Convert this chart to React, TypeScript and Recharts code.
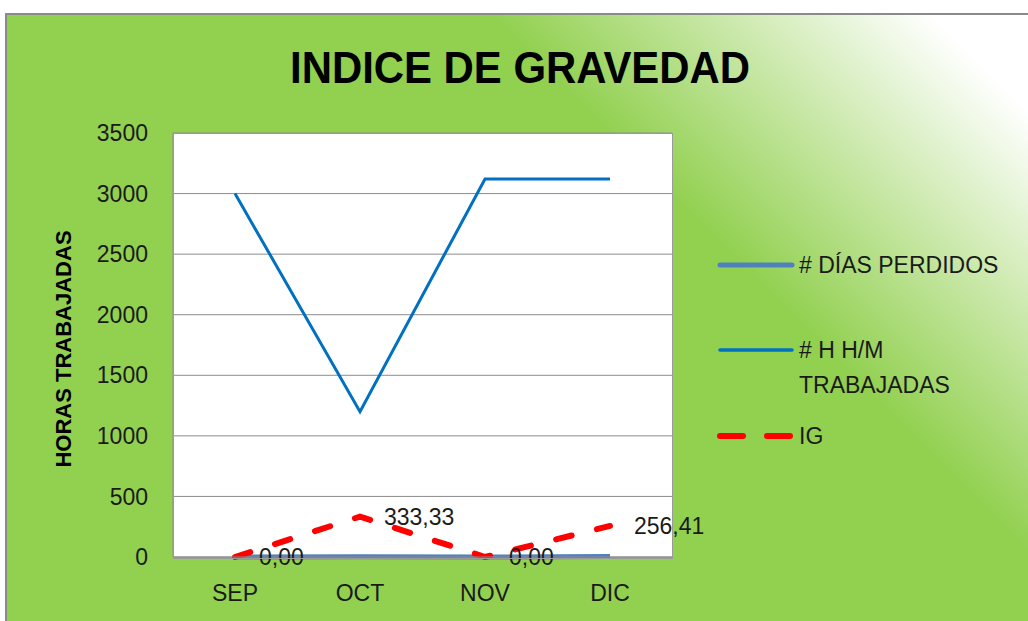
import { CartesianGrid, LabelList, Line, LineChart, XAxis, YAxis } from "recharts";

const months = ["SEP", "OCT", "NOV", "DIC"];
const diasPerdidos = [0, 2, 0, 4];
const horasTrabajadas = [3000, 1200, 3120, 3120];
const indiceGravedad = [0, 333.33, 0, 256.41];
const yTicks = [0, 500, 1000, 1500, 2000, 2500, 3000, 3500];

const data = months.map((m, i) => ({
    name: m,
    dias: diasPerdidos[i],
    horas: horasTrabajadas[i],
    ig: indiceGravedad[i],
}));

const FONT = "'Liberation Sans', Arial, sans-serif";
const W = 1023;
const H = 608;

const fmt = (v: unknown) => Number(v).toFixed(2).replace(".", ",");

export default function App() {
    return (
        <div
            style={{
                position: "absolute",
                left: 5,
                top: 13,
                width: W,
                height: H,
                boxSizing: "border-box",
                borderTop: "2px solid #8a8a8a",
                borderLeft: "2px solid #8a8a8a",
                background:
                    "linear-gradient(45deg, #92D050 0%, #92D050 67%, #ffffff 94%, #ffffff 100%)",
                fontFamily: FONT,
                overflow: "hidden",
            }}
        >
            <svg width={W} height={100} style={{ position: "absolute", left: -2, top: -2 }}>
                <text
                    x={290 - 5}
                    y={83 - 13}
                    fontFamily={FONT}
                    fontWeight="bold"
                    fontSize={45}
                    textLength={460}
                    lengthAdjust="spacingAndGlyphs"
                    fill="#000"
                >
                    INDICE DE GRAVEDAD
                </text>
            </svg>
            <div style={{ position: "absolute", left: -2, top: -2 }}>
                <LineChart
                    width={W}
                    height={H}
                    data={data}
                    margin={{ top: 120, right: 356, bottom: 24, left: 88 }}
                >
                    <CartesianGrid vertical={false} stroke="#8c8c8c" fill="#ffffff" />
                    <XAxis
                        dataKey="name"
                        padding={{ left: 62, right: 62 }}
                        axisLine={{ stroke: "#8c8c8c" }}
                        tickLine={false}
                        tickSize={0}
                        tickMargin={28}
                        height={40}
                        tick={{ fill: "#1a1a1a", fontSize: 23, fontFamily: FONT }}
                    />
                    <YAxis
                        domain={[0, 3500]}
                        ticks={yTicks}
                        interval={0}
                        width={80}
                        axisLine={{ stroke: "#8c8c8c" }}
                        tickLine={false}
                        tickSize={0}
                        tickMargin={25}
                        tick={{ fill: "#1a1a1a", fontSize: 23, fontFamily: FONT }}
                        label={{
                            value: "HORAS TRABAJADAS",
                            angle: -90,
                            position: "insideLeft",
                            offset: 0,
                            dx: -30,
                            dy: 4,
                            style: {
                                fontWeight: "bold",
                                fontSize: 22,
                                fill: "#000",
                                fontFamily: FONT,
                                textAnchor: "middle",
                            },
                        }}
                    />
                    <Line
                        dataKey="dias"
                        stroke="#4F81BD"
                        strokeWidth={5}
                        dot={false}
                        isAnimationActive={false}
                    />
                    <Line
                        dataKey="horas"
                        stroke="#0070C0"
                        strokeWidth={3}
                        dot={false}
                        isAnimationActive={false}
                    />
                    <Line
                        dataKey="ig"
                        stroke="#FF0000"
                        strokeWidth={6}
                        strokeDasharray="16 26"
                        strokeLinecap="round"
                        dot={false}
                        isAnimationActive={false}
                    >
                        <LabelList
                            dataKey="ig"
                            position="right"
                            offset={24}
                            formatter={fmt}
                            style={{ fill: "#1a1a1a", fontSize: 23, fontFamily: FONT }}
                        />
                    </Line>
                </LineChart>
            </div>
            {/* plot frame */}
            <div
                style={{
                    position: "absolute",
                    left: 166,
                    top: 118,
                    width: 498,
                    height: 424,
                    border: "1px solid #9a9a9a",
                    pointerEvents: "none",
                }}
            />
            {/* legend */}
            <svg width={320} height={220} style={{ position: "absolute", left: 700, top: 220 }}>
                <line x1={13} y1={30} x2={85} y2={30} stroke="#4F81BD" strokeWidth={5} strokeLinecap="round" />
                <text x={92} y={30} dy="0.36em" fontSize={23} fontFamily={FONT} fill="#1a1a1a">
                    # DÍAS PERDIDOS
                </text>
                <line x1={13} y1={115} x2={85} y2={115} stroke="#0070C0" strokeWidth={3.5} strokeLinecap="round" />
                <text x={92} y={115} dy="0.36em" fontSize={23} fontFamily={FONT} fill="#1a1a1a">
                    # H H/M
                </text>
                <text x={92} y={150} dy="0.36em" fontSize={23} fontFamily={FONT} fill="#1a1a1a">
                    TRABAJADAS
                </text>
                <line x1={13} y1={201} x2={36} y2={201} stroke="#FF0000" strokeWidth={6} strokeLinecap="round" />
                <line x1={60} y1={201} x2={83} y2={201} stroke="#FF0000" strokeWidth={6} strokeLinecap="round" />
                <text x={92} y={201} dy="0.36em" fontSize={23} fontFamily={FONT} fill="#1a1a1a">
                    IG
                </text>
            </svg>
        </div>
    );
}
